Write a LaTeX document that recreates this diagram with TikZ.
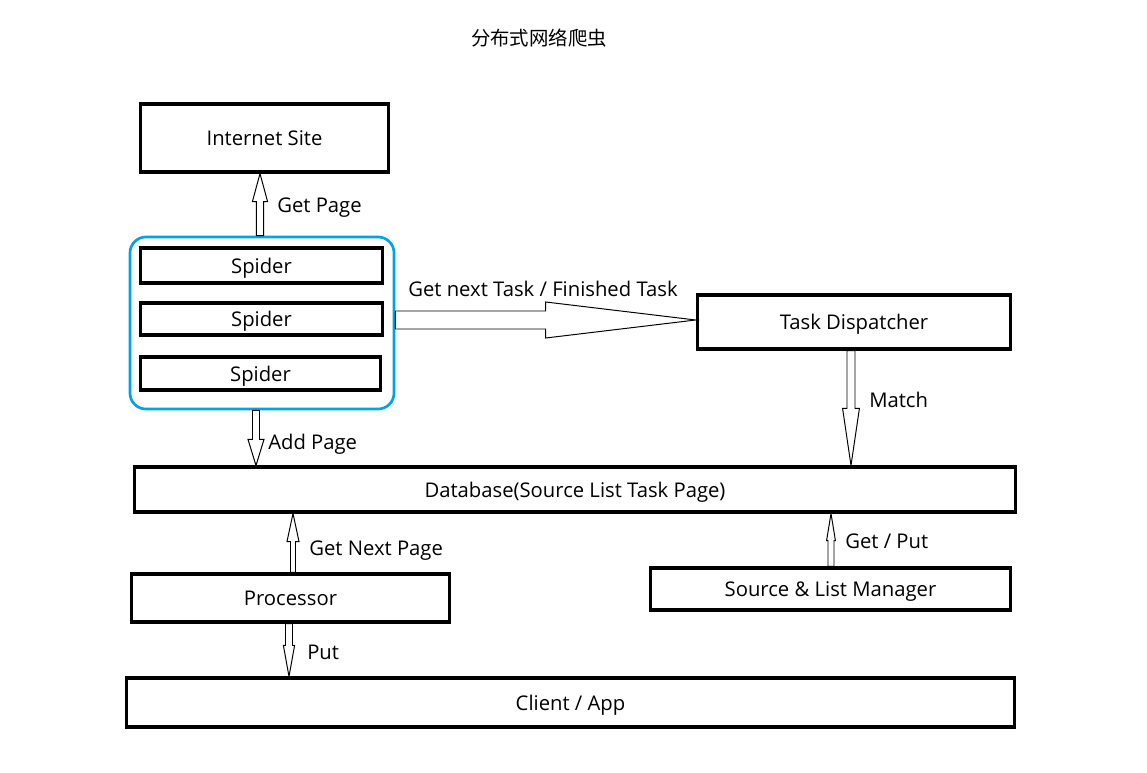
\documentclass[tikz,border=0pt]{standalone}
\usepackage{fontspec}
\setmainfont{Open Sans}
\newfontfamily\cjk{Noto Sans CJK SC}
\usetikzlibrary{calc}
\definecolor{spiderblue}{RGB}{0,162,232}

% hollow block arrow: start, tip, shaft half width, head half width, head length
\newcommand{\hollowarrow}[5]{%
  \coordinate (ha) at ($(#2)!#5!(#1)$);
  \draw[hollow] ($(#1)!#3!90:(#2)$) -- ($(ha)!#3!90:(#2)$) -- ($(ha)!#4!90:(#2)$) -- (#2)
    -- ($(ha)!#4!-90:(#2)$) -- ($(ha)!#3!-90:(#2)$) -- ($(#1)!#3!-90:(#2)$) -- cycle;
}

\begin{document}
\begin{tikzpicture}[x=0.025cm, y=-0.025cm,
    font=\fontsize{14.4}{17}\selectfont,
    box/.style={draw, rectangle, line width=2.3pt, align=center, text depth=0pt},
    hollow/.style={draw, line width=0.7pt, fill=white, line join=miter},
    lbl/.style={anchor=west, inner sep=0pt, text depth=0pt}]
    \useasboundingbox (0,0) rectangle (1147,773);

    \node[font=\fontsize{13.8}{16}\selectfont] (title) at (539,38) {\cjk 分布式网络爬虫};

    %% boxes
    \node[box, minimum width=6.2cm, minimum height=1.7cm] (site) at (264.5,138) {Internet Site};
    \node[draw=spiderblue, line width=1.9pt, rounded corners=0.4cm, minimum width=6.6cm, minimum height=4.3cm] (spiders) at (262,323) {};
    \node[box, minimum width=6.05cm, minimum height=0.87cm] (sp1) at (261.5,265.5) {Spider};
    \node[box, minimum width=6.05cm, minimum height=0.8cm] (sp2) at (261.5,319) {Spider};
    \node[box, minimum width=6cm, minimum height=0.82cm] (sp3) at (260.5,373.5) {Spider};
    \node[box, minimum width=7.83cm, minimum height=1.35cm] (task) at (854,322) {Task Dispatcher};
    \node[box, minimum width=22.03cm, minimum height=1.12cm] (db) at (575,489.5) {Database(Source List Task Page)};
    \node[box, minimum width=7.95cm, minimum height=1.2cm] (proc) at (290.5,598) {Processor};
    \node[box, minimum width=9cm, minimum height=1.05cm] (mgr) at (830.5,589) {Source \& List Manager};
    \node[box, minimum width=22.2cm, minimum height=1.22cm] (client) at (570.5,702.5) {Client / App};

    %% arrow ends
    \coordinate (getpage-s) at (spiders.north -| 260,0);
    \coordinate (getpage-t) at (site.south -| 260,0);
    \coordinate (addpage-s) at (spiders.south -| 256,0);
    \coordinate (addpage-t) at (db.north -| 256,0);
    \coordinate (tasks-s) at (spiders.east |- 0,320);
    \coordinate (tasks-t) at (task.west |- 0,320);
    \coordinate (match-s) at (task.south -| 851,0);
    \coordinate (match-t) at (db.north -| 851,0);
    \coordinate (getnext-s) at (proc.north -| 293,0);
    \coordinate (getnext-t) at (db.south -| 293,0);
    \coordinate (getput-s) at (mgr.north -| 831,0);
    \coordinate (getput-t) at (db.south -| 831,0);
    \coordinate (put-s) at (proc.south -| 289,0);
    \coordinate (put-t) at (client.north -| 289,0);

    \hollowarrow{getpage-s}{getpage-t}{0.09cm}{0.19cm}{0.7cm}
    \hollowarrow{addpage-s}{addpage-t}{0.0875cm}{0.2cm}{0.65cm}
    \hollowarrow{tasks-s}{tasks-t}{0.225cm}{0.45cm}{3.75cm}
    \hollowarrow{match-s}{match-t}{0.1cm}{0.21cm}{1.425cm}
    \hollowarrow{getnext-s}{getnext-t}{0.0625cm}{0.15cm}{0.7cm}
    \hollowarrow{getput-s}{getput-t}{0.075cm}{0.11cm}{0.675cm}
    \hollowarrow{put-s}{put-t}{0.0875cm}{0.14cm}{0.775cm}

    %% arrow labels
    \node[lbl] (l-getpage) at (277,205) {Get Page};
    \node[lbl] (l-tasks) at (408,289) {Get next Task / Finished Task};
    \node[lbl] (l-match) at (869,400) {Match};
    \node[lbl] (l-addpage) at (268,442) {Add Page};
    \node[lbl] (l-getnext) at (309,548) {Get Next Page};
    \node[lbl] (l-getput) at (845,541) {Get / Put};
    \node[lbl] (l-put) at (307,652) {Put};
\end{tikzpicture}
\end{document}
